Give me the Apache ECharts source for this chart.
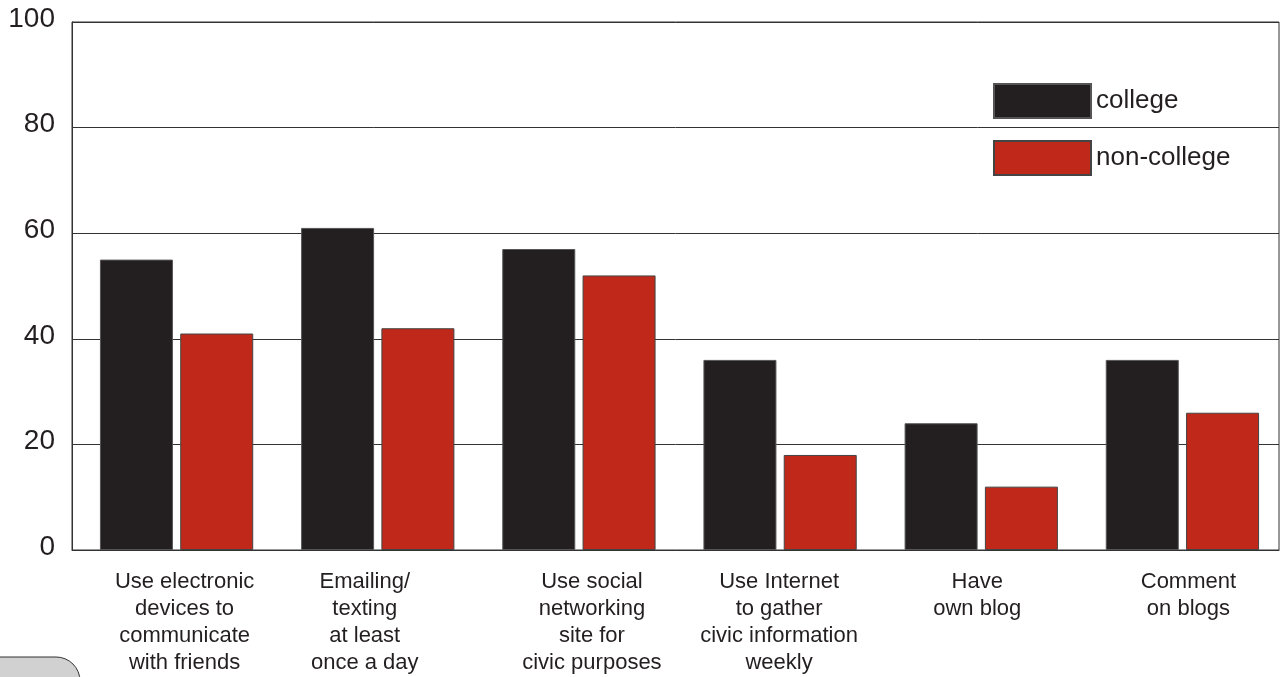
<!DOCTYPE html>
<html>
<head>
<meta charset="utf-8">
<script src="https://cdn.jsdelivr.net/npm/echarts@6/dist/echarts.min.js"></script>
<style>
html,body{margin:0;padding:0;background:#fff;}
#chart{width:1287px;height:677px;}
</style>
</head>
<body>
<div id="chart"></div>
<script>
var categories = [
  "Use electronic\ndevices to\ncommunicate\nwith friends",
  "Emailing/\ntexting\nat least\nonce a day",
  "Use social\nnetworking\nsite for\ncivic purposes",
  "Use Internet\nto gather\ncivic information\nweekly",
  "Have\nown blog",
  "Comment\non blogs"
];
var college = [55, 61, 57, 36, 24, 36];
var nonCollege = [41, 42, 52, 18, 12, 26];
var yTicks = [0, 20, 40, 60, 80, 100];

// per-label horizontal shift (px) to mimic the reference's label placement
var labelShift = [12, -9, 17, 3, 0, 10];

var FONT = 'Liberation Sans, Arial, Helvetica, sans-serif';
var rich = {};
labelShift.forEach(function (s, i) {
  rich['l' + i] = {
    fontFamily: FONT,
    fontSize: 22,
    lineHeight: 27,
    color: '#231f20',
    align: 'center',
    padding: s >= 0 ? [0, 0, 0, 2 * s] : [0, -2 * s, 0, 0]
  };
});

var chart = echarts.init(document.getElementById('chart'));
chart.setOption({
  animation: false,
  backgroundColor: '#fff',
  grid: [
    { left: 72, right: 8, top: 22, bottom: 127, show: true, borderColor: '#333', borderWidth: 1 },
    { left: 76, right: 4, top: 22, bottom: 127, show: false }
  ],
  legend: {
    orient: 'vertical',
    left: 993, top: 83,
    itemWidth: 97, itemHeight: 34, itemGap: 21,
    icon: 'rect',
    padding: 0,
    textStyle: { fontFamily: FONT, fontSize: 26, lineHeight: 30, color: '#231f20' },
    data: ['college', 'non-college']
  },
  xAxis: [
    {
      type: 'category',
      gridIndex: 0,
      data: categories,
      axisLine: { show: true, lineStyle: { color: '#333', width: 1 } },
      axisTick: { show: false },
      axisLabel: {
        interval: 0,
        margin: 18,
        formatter: function (v, i) {
          return v.split('\n').map(function (line) { return '{l' + i + '|' + line + '}'; }).join('\n');
        },
        rich: rich
      }
    },
    {
      type: 'category',
      gridIndex: 1,
      data: categories,
      show: false
    }
  ],
  yAxis: [
    {
      type: 'value',
      gridIndex: 0,
      min: yTicks[0], max: yTicks[yTicks.length - 1], interval: 20,
      axisLine: { show: true, lineStyle: { color: '#333' } },
      axisTick: { show: false },
      splitLine: { show: true, lineStyle: { color: '#333', width: 1 } },
      axisLabel: { margin: 17, fontFamily: FONT, fontSize: 28, color: '#231f20', verticalAlign: 'bottom', lineHeight: 6 }
    },
    {
      type: 'value',
      gridIndex: 1,
      min: yTicks[0], max: yTicks[yTicks.length - 1], interval: 20,
      show: false,
      splitLine: { show: false }
    }
  ],
  series: [
    {
      name: 'college', type: 'bar', data: college,
      xAxisIndex: 1, yAxisIndex: 1,
      barWidth: 73, barGap: '10%',
      itemStyle: { color: '#231f20', borderColor: '#555', borderWidth: 1 }
    },
    {
      name: 'non-college', type: 'bar', data: nonCollege,
      xAxisIndex: 1, yAxisIndex: 1,
      barWidth: 73,
      itemStyle: { color: '#c0291a', borderColor: '#444', borderWidth: 1 }
    }
  ],
  graphic: [
    {
      type: 'rect',
      shape: { x: -2, y: 657, width: 82, height: 30, r: [0, 24, 0, 0] },
      style: { fill: '#d1d1d1', stroke: '#333', lineWidth: 1 }
    }
  ]
});
</script>
</body>
</html>
